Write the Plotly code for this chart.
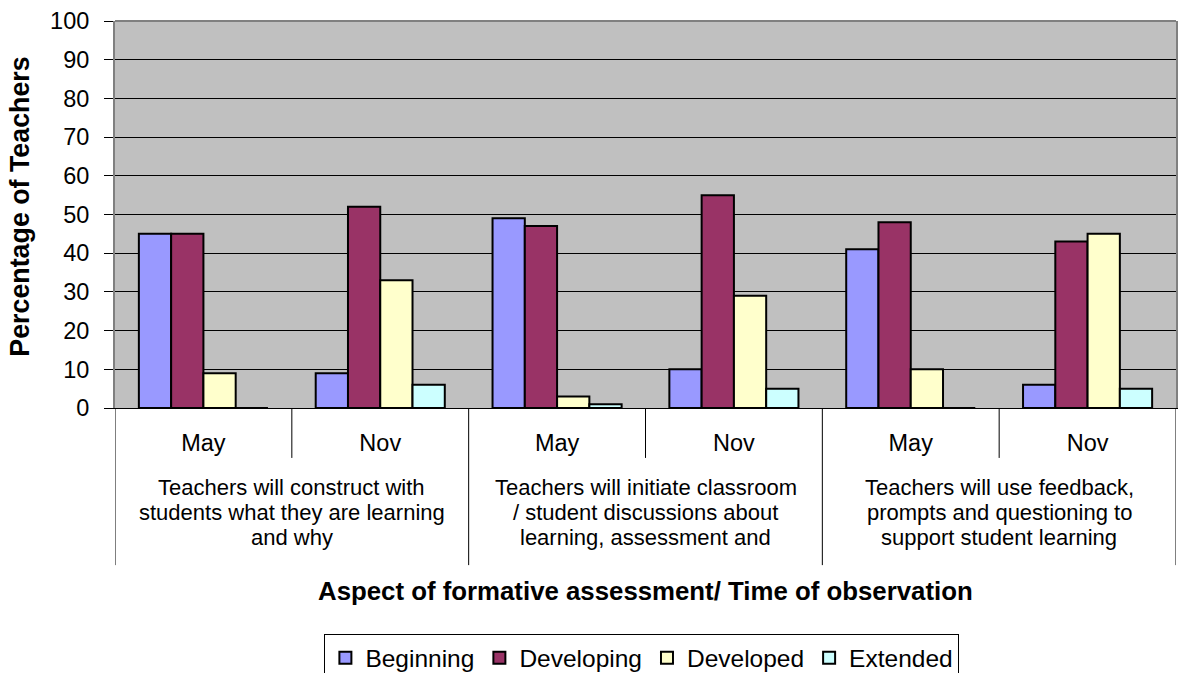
import plotly.graph_objects as go

periods = ["May", "Nov", "May", "Nov", "May", "Nov"]
aspect_lines = [
    ["Teachers will construct with", "students what they are learning", "and why"],
    ["Teachers will initiate classroom", "/ student discussions about", "learning, assessment and"],
    ["Teachers will use feedback,", "prompts and questioning to", "support student learning"],
]
series_names = ["Beginning", "Developing", "Developed", "Extended"]
beginning = [45, 9, 49, 10, 41, 6]
developing = [45, 52, 47, 55, 48, 43]
developed = [9, 33, 3, 29, 10, 45]
extended = [0, 6, 1, 5, 0, 5]
colors = ["#9999FF", "#993366", "#FFFFCC", "#CCFFFF"]
y_ticks = list(range(0, 101, 10))

FONT = "Arial, 'Liberation Sans', sans-serif"
FS = 23.5
x_idx = list(range(len(periods)))

fig = go.Figure()
for name, vals, col in zip(series_names, [beginning, developing, developed, extended], colors):
    fig.add_trace(go.Bar(
        x=x_idx, y=vals, name=name,
        marker=dict(color=col, line=dict(color="black", width=2)),
    ))

shapes = []
# category table lines below the axis
for b in range(len(periods) + 1):
    pos = b - 0.5
    full = (b % 2 == 0)
    shapes.append(dict(type="line", xref="x", yref="paper", x0=pos, x1=pos,
                       y0=0, y1=-0.406 if full else -0.129,
                       line=dict(color="black", width=1)))
# top border of plot area
shapes.append(dict(type="line", xref="paper", yref="paper", x0=0, x1=1, y0=1, y1=1,
                   line=dict(color="#808080", width=2)))

annotations = []
line_y = [-0.2067, -0.2713, -0.3359]
for i, lines in enumerate(aspect_lines):
    for j, txt in enumerate(lines):
        annotations.append(dict(text=txt, xref="x", yref="paper", x=2 * i + 0.5, y=line_y[j],
                                yanchor="middle", xanchor="center", showarrow=False,
                                font=dict(family=FONT, size=22, color="black")))
annotations.append(dict(text="<b>Percentage of Teachers</b>", xref="paper", yref="paper",
                        x=-0.0896, y=0.520, textangle=-90, showarrow=False,
                        xanchor="center", yanchor="middle",
                        font=dict(family=FONT, size=26.8, color="black")))
annotations.append(dict(text="<b>Aspect of formative assessment/ Time of observation</b>",
                        xref="paper", yref="paper", x=0.5, y=-0.4727,
                        xanchor="center", yanchor="middle", showarrow=False,
                        font=dict(family=FONT, size=25.8, color="black")))

fig.update_layout(
    width=1178, height=673,
    margin=dict(l=115, r=2, t=21, b=265, autoexpand=False),
    paper_bgcolor="white",
    plot_bgcolor="#C0C0C0",
    barmode="group", bargap=0.27, bargroupgap=0,
    font=dict(family=FONT, size=FS, color="black"),
    shapes=shapes,
    annotations=annotations,
    legend=dict(orientation="h", x=0.4966, xanchor="center", y=-0.585, yanchor="top",
                bordercolor="black", borderwidth=1,
                font=dict(family=FONT, size=24.5, color="black"),
                itemwidth=30, traceorder="normal"),
    showlegend=True,
)
fig.update_xaxes(
    range=[-0.5, len(periods) - 0.5],
    tickmode="array", tickvals=x_idx, ticktext=periods,
    ticks="", ticklabelstandoff=14,
    showgrid=False, zeroline=False,
    showline=True, linecolor="black", linewidth=1,
    tickfont=dict(family=FONT, size=FS, color="black"),
)
fig.update_yaxes(
    range=[0, 100], tickmode="array", tickvals=y_ticks,
    ticks="outside", ticklen=9, tickcolor="black", tickwidth=1,
    ticklabelstandoff=10,
    showgrid=True, gridcolor="black", gridwidth=1,
    zeroline=False,
    showline=True, linecolor="#808080", linewidth=2, mirror=True,
    tickfont=dict(family=FONT, size=FS, color="black"),
)

fig.write_html(
    "out.html",
    config={"displayModeBar": False},
    post_script="document.body.style.margin='0';document.body.style.overflow='hidden';"
                "document.documentElement.style.overflow='hidden';",
)
